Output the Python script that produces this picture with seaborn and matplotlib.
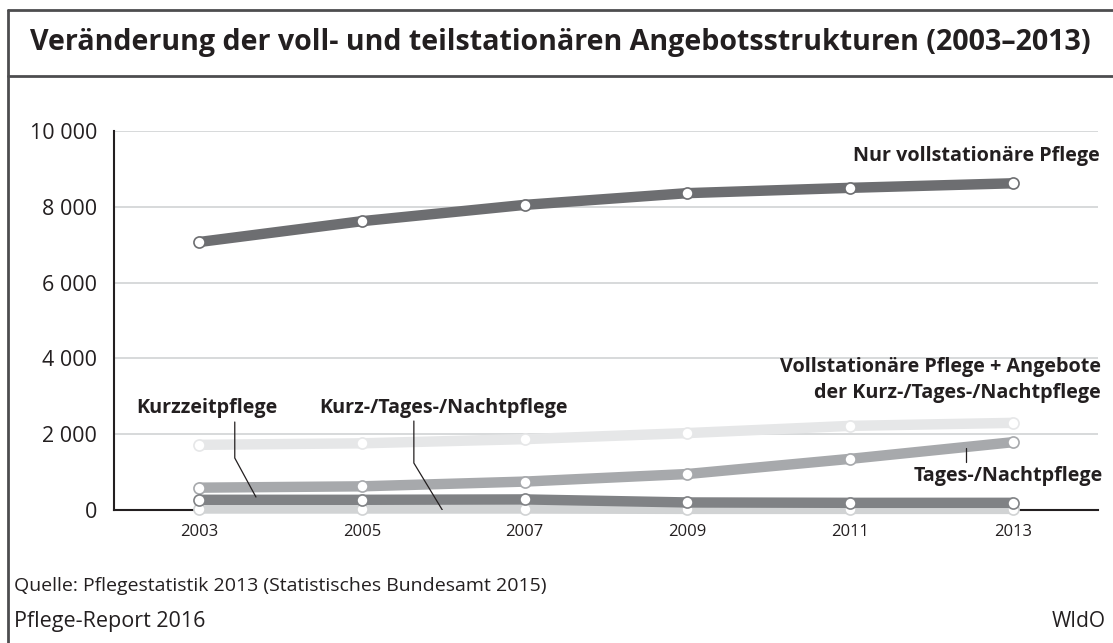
"""
Veränderung der voll- und teilstationären Angebotsstrukturen (2003-2013)
"""

import matplotlib.pyplot as plt
import pandas as pd
import seaborn as sns
from matplotlib.lines import Line2D

years = [2003, 2005, 2007, 2009, 2011, 2013]
nur_voll = [7070, 7620, 8050, 8360, 8500, 8620]
voll_plus = [1720, 1760, 1870, 2030, 2220, 2300]
tages_nacht = [590, 625, 750, 950, 1350, 1790]
kurzzeit = [270, 270, 280, 200, 190, 190]
kurz_tages_nacht = [40, 40, 40, 30, 30, 30]

series = [
    ("Vollstationäre Pflege + Angebote der Kurz-/Tages-/Nachtpflege", voll_plus, "#e6e7e8"),
    ("Tages-/Nachtpflege", tages_nacht, "#a7a9ac"),
    ("Kurz-/Tages-/Nachtpflege", kurz_tages_nacht, "#d1d3d4"),
    ("Kurzzeitpflege", kurzzeit, "#808285"),
    ("Nur vollstationäre Pflege", nur_voll, "#6d6e71"),
]

y_ticks = [0, 2000, 4000, 6000, 8000, 10000]
y_labels = ["0", "2 000", "4 000", "6 000", "8 000", "10 000"]

sns.set_style("white")
plt.rcParams["font.family"] = ["Open Sans", "DejaVu Sans"]

fig = plt.figure(figsize=(11.13, 6.43), dpi=100)
ax = fig.add_axes([0.1024, 0.2068, 0.8841, 0.5895])

for i, (name, vals, col) in enumerate(series):
    df = pd.DataFrame({"Jahr": years, "Wert": vals})
    sns.lineplot(
        data=df, x="Jahr", y="Wert", ax=ax, color=col, linewidth=7.5,
        marker="o", markersize=8, markerfacecolor="white",
        markeredgecolor=col, markeredgewidth=1.2, zorder=3 + i,
        solid_capstyle="butt", clip_on=False,
    )

ax.set_xlim(2001.956, 2014.044)
ax.set_ylim(0, 10000)
ax.set_xticks(years)
ax.set_xticklabels([str(y) for y in years], fontsize=12, color="#231f20")
ax.set_yticks(y_ticks)
ax.set_yticklabels(y_labels, fontsize=15.5, color="#231f20")
ax.tick_params(length=0, pad=12)
ax.tick_params(axis="x", pad=10)
ax.set_xlabel("")
ax.set_ylabel("")
ax.grid(axis="y", color="#d1d3d4", linewidth=1.2)
ax.set_axisbelow(True)
for s in ["top", "right"]:
    ax.spines[s].set_visible(False)
for s in ["left", "bottom"]:
    ax.spines[s].set_color("#231f20")
    ax.spines[s].set_linewidth(1.5)
    ax.spines[s].set_zorder(2)

lab = dict(fontsize=14.2, fontweight="bold", color="#231f20", clip_on=False)
ax.text(2003.10, 2690, "Kurzzeitpflege", ha="center", va="center", **lab)
ax.text(2006.0, 2690, "Kurz-/Tages-/Nachtpflege", ha="center", va="center", **lab)
ax.text(2014.08, 3430, "Vollstationäre Pflege + Angebote\nder Kurz-/Tages-/Nachtpflege",
        ha="right", va="center", multialignment="right", linespacing=1.45, **lab)
ax.text(2014.1, 897, "Tages-/Nachtpflege", ha="right", va="center", **lab)
ax.text(2014.07, 9340, "Nur vollstationäre Pflege", ha="right", va="center", **lab)

leader = dict(color="#231f20", linewidth=0.9, zorder=20, clip_on=True)
ax.plot([2003.44, 2003.44, 2003.70], [2322, 1372, 343], **leader)
ax.plot([2005.64, 2005.64, 2005.99], [2348, 1240, 0], **leader)
ax.plot([2012.42, 2012.42], [1636, 1266], **leader)

frame = dict(color="#4d4d4f", linewidth=2, transform=fig.transFigure)
fig.add_artist(Line2D([0.0072, 1.0], [0.9844, 0.9844], **frame))
fig.add_artist(Line2D([0.0072, 1.0], [0.8818, 0.8818], **frame))
fig.add_artist(Line2D([0.0072, 0.0072], [0.0, 0.9844], **frame))

fig.text(0.027, 0.934, "Veränderung der voll- und teilstationären Angebotsstrukturen (2003–2013)",
         fontsize=20.6, fontweight="bold", color="#231f20", ha="left", va="center")
fig.text(0.0126, 0.088, "Quelle: Pflegestatistik 2013 (Statistisches Bundesamt 2015)",
         fontsize=14, color="#231f20", ha="left", va="center")
fig.text(0.0126, 0.034, "Pflege-Report 2016", fontsize=15.5, color="#231f20",
         ha="left", va="center")
fig.text(0.993, 0.034, "WIdO", fontsize=15, color="#231f20", ha="right", va="center")

fig.savefig("out.png", dpi=100)
